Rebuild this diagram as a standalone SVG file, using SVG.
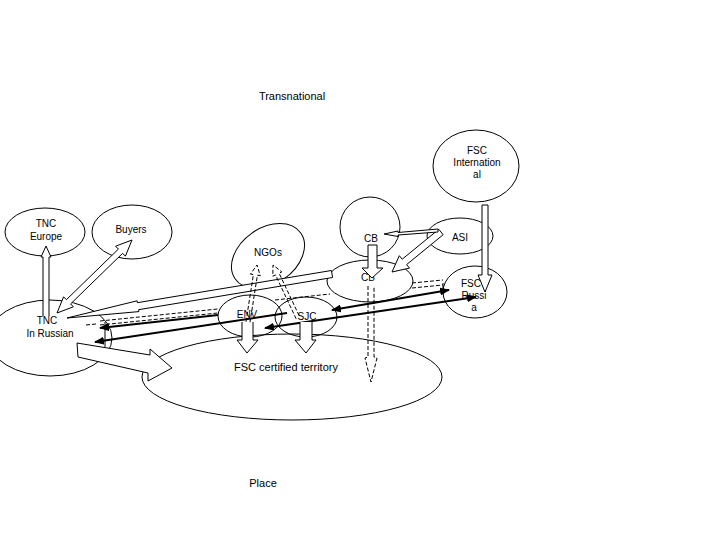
<svg xmlns="http://www.w3.org/2000/svg" width="720" height="540" viewBox="0 0 720 540">
<style>
.n{fill:none;stroke:#000;stroke-width:1}
.t{font-family:"Liberation Sans",Arial,sans-serif;font-size:10px;fill:#000;text-anchor:middle}
.tl{font-size:11px}
.ha{fill:#fff;stroke:#000;stroke-width:1}
.da{fill:none;stroke:#000;stroke-width:1;stroke-dasharray:4 2}
.b{fill:none;stroke:#000;stroke-width:2}
.tn{fill:none;stroke:#000;stroke-width:1}
</style>
<defs>
<marker id="ah" viewBox="0 0 10 8" refX="9" refY="4" markerWidth="10" markerHeight="8" markerUnits="userSpaceOnUse" orient="auto-start-reverse">
<path d="M0,0 L10,4 L0,8 z" fill="#000"/>
</marker>
</defs>
<rect width="720" height="540" fill="#fff"/>
<text class="t tl" x="292" y="100">Transnational</text>
<text class="t tl" x="263" y="487">Place</text>
<g id="fsc-international"><ellipse class="n" cx="476" cy="166" rx="43" ry="36"/><text class="t" x="477" y="154">FSC</text><text class="t" x="477" y="166">Internation</text><text class="t" x="477" y="178">al</text></g>
<g id="tnc-europe"><ellipse class="n" cx="45" cy="232" rx="40" ry="24"/><text class="t" x="46" y="227">TNC</text><text class="t" x="46" y="240">Europe</text></g>
<g id="buyers"><ellipse class="n" cx="132" cy="232" rx="40" ry="27"/><text class="t" x="131" y="233">Buyers</text></g>
<g id="tnc-russia"><ellipse class="n" cx="50" cy="338" rx="62" ry="38"/><text class="t" x="47" y="324">TNC</text><text class="t" x="50" y="337">In Russian</text></g>
<g id="ngos"><ellipse class="n" cx="268" cy="256" rx="40" ry="28" transform="rotate(-35 268 256)"/><text class="t" x="268" y="256">NGOs</text></g>
<g id="cb-top"><circle class="n" cx="370" cy="227" r="30"/><text class="t" x="371" y="242">CB</text></g>
<g id="asi"><ellipse class="n" cx="460" cy="236" rx="33" ry="18"/><text class="t" x="460" y="241">ASI</text></g>
<g id="territory"><ellipse class="n" cx="292" cy="377" rx="150" ry="43"/><text class="t tl" x="286" y="371">FSC certified territory</text></g>
<g id="cb-lower"><ellipse class="n" cx="370" cy="281" rx="43" ry="21"/><text class="t" x="368" y="281">CB</text></g>
<g id="fsc-russia"><ellipse class="n" cx="475" cy="292" rx="32" ry="26"/><text class="t" x="471" y="287">FSC</text><text class="t" x="474" y="299">Russi</text><text class="t" x="474" y="311">a</text></g>
<g id="env"><ellipse class="n" cx="250" cy="316" rx="32" ry="21"/><text class="t" x="247" y="318">ENV</text></g>
<g id="sjc"><ellipse class="n" cx="306" cy="317" rx="31" ry="20"/><text class="t" x="307" y="320">SJC</text></g>
<g id="connectors">
<path class="ha" d="M43,316 L43,257 L41,257 L46,246 L51,257 L49,257 L49,316"/>
<polygon class="ha" points="132,240 125.4,256.2 122.6,253.3 70.6,303.9 73.4,306.8 57,313 63.6,296.8 66.4,299.7 118.4,249.1 115.6,246.2"/>
<polygon class="ha" points="67,318 137.1,300.8 137.4,302.7 331.4,270.5 332.6,277.5 138.6,309.7 138.9,311.6"/>
<line class="da" x1="100" y1="321" x2="218" y2="309"/>
<line class="da" x1="100" y1="325" x2="218" y2="313"/>
<line class="da" x1="86" y1="325" x2="96" y2="324"/>
<line class="da" x1="275" y1="300" x2="330" y2="294"/>
<line class="da" x1="412" y1="283" x2="443" y2="280"/>
<line class="da" x1="412" y1="288" x2="443" y2="285"/>
<line class="tn" x1="443" y1="283" x2="443" y2="294"/>
<line class="tn" x1="105" y1="322" x2="105" y2="347"/>
<line class="b" x1="218" y1="315" x2="100" y2="328" marker-end="url(#ah)"/>
<line class="b" x1="287" y1="313" x2="95" y2="342" marker-end="url(#ah)"/>
<line class="b" x1="265" y1="328" x2="476" y2="297" marker-start="url(#ah)" marker-end="url(#ah)"/>
<line class="b" x1="332" y1="310" x2="449" y2="290" marker-start="url(#ah)" marker-end="url(#ah)"/>
<polygon class="ha" points="77,343 150,355 150,349 172,368 148,381 148,373 78,357"/>
<polygon class="ha" points="368,245 368,268 362,268 372,278 383,268 377,268 377,245"/>
<polygon class="ha" points="482,205 482,275 478,275 485,292 492,275 488,275 488,205"/>
<polygon class="ha" points="438.8,229.3 402.2,259.2 399.3,255.7 392,272 409.5,268.1 406.6,264.6 443.2,234.7"/>
<polygon class="ha" points="384,234 398,231 398,232.5 438,229 438,232 398,235 398,236.5"/>
<path class="ha" d="M242,322 L242,340 L237,340 L247,353 L258,340 L253,340 L253,322"/>
<path class="ha" d="M300,322 L300,340 L295,340 L306,353 L316,340 L312,340 L312,322"/>
<path class="da" d="M368,286 L368,357 L365,358 L371,382 L377,358 L374,357 L374,286"/>
<path class="da" d="M246,321.7 L253.4,274.6 L250.5,274.1 L257,265 L260.3,275.7 L257.4,275.2 L250,322.3"/>
<path class="da" d="M296.2,318.9 L275.5,274.9 L272.8,276.2 L273,265 L281.8,271.9 L279.1,273.2 L299.8,317.1"/>
</g>
</svg>
